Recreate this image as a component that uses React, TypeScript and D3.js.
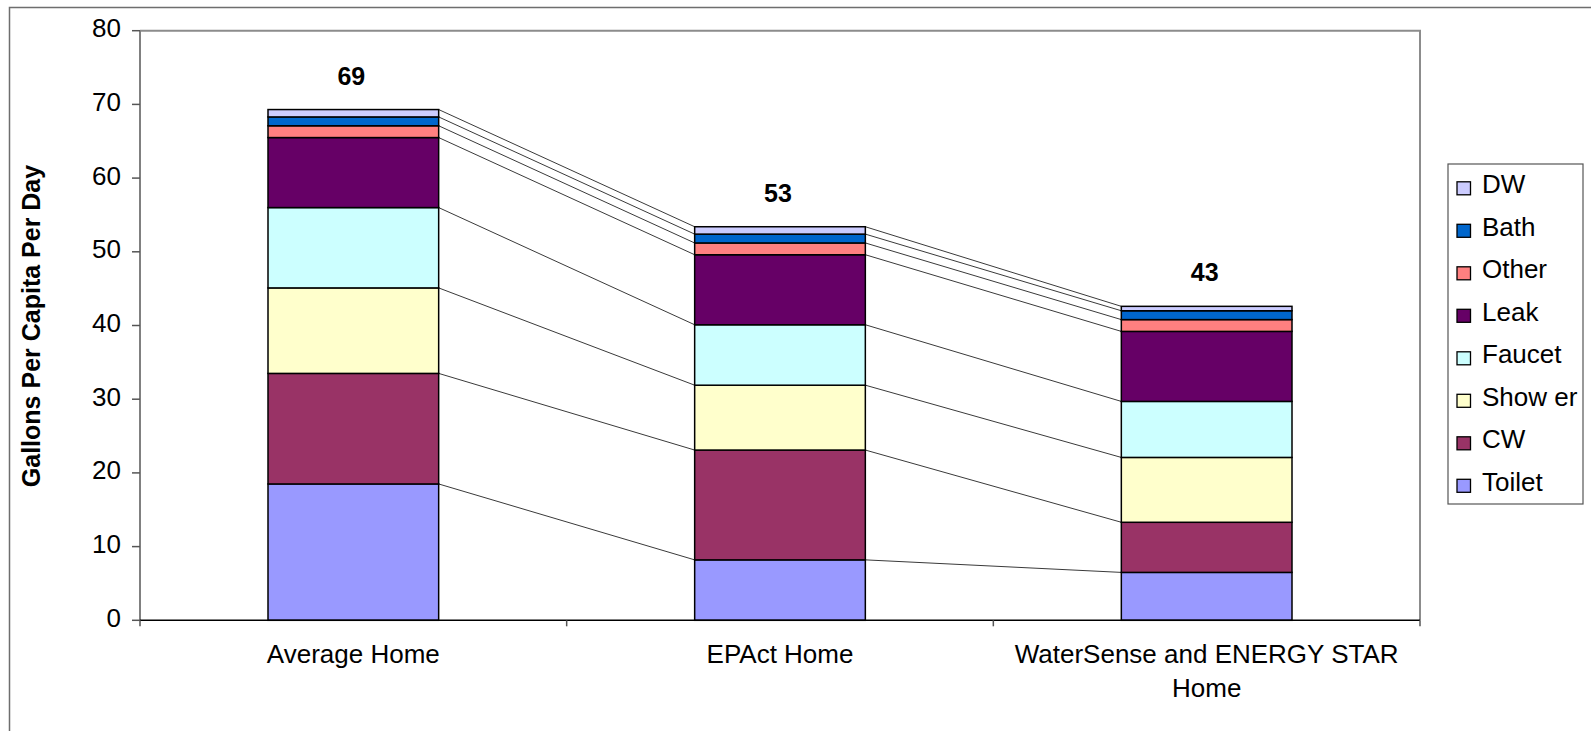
import React from "react";
import * as d3 from "d3";

// Household indoor water use by end use, gallons per capita per day
const homes = ["Average Home", "EPAct Home", "WaterSense and ENERGY STAR Home"];
const homeLabelLines = [["Average Home"], ["EPAct Home"], ["WaterSense and ENERGY STAR", "Home"]];

// stacking order, bottom to top
const endUses = ["Toilet", "CW", "Shower", "Faucet", "Leak", "Other", "Bath", "DW"];
const toilet = [18.5, 8.2, 6.5];
const cw = [15.0, 14.9, 6.8];
const shower = [11.6, 8.8, 8.8];
const faucet = [10.9, 8.2, 7.6];
const leak = [9.5, 9.5, 9.5];
const other = [1.6, 1.6, 1.6];
const bath = [1.2, 1.2, 1.2];
const dw = [1.0, 1.0, 0.6];

const yTicks = [0, 10, 20, 30, 40, 50, 60, 70, 80];

const colors: Record<string, string> = {
  Toilet: "#9999FF",
  CW: "#993366",
  Shower: "#FFFFCC",
  Faucet: "#CCFFFF",
  Leak: "#660066",
  Other: "#FF8080",
  Bath: "#0066CC",
  DW: "#CCCCFF",
};

const seriesValues = [toilet, cw, shower, faucet, leak, other, bath, dw];

export default function App() {
  const W = 1591;
  const H = 731;
  const left = 140;
  const right = 1420;
  const top = 30.7;
  const bottom = 620.3;

  const x = d3.scaleBand<string>().domain(homes).range([left, right]).paddingInner(0.6).paddingOuter(0.3);
  const y = d3.scaleLinear().domain([0, 80]).range([bottom, top]);
  const step = x.step();
  const bw = x.bandwidth();

  const rows = homes.map((h, j) => {
    const r: Record<string, number | string> = { home: h };
    endUses.forEach((u, i) => (r[u] = seriesValues[i][j]));
    return r;
  });
  const stacked = d3.stack<Record<string, number | string>>().keys(endUses)(rows as any);
  const totals = homes.map((_, j) => d3.sum(seriesValues, (s) => s[j]));

  const font = "'Liberation Sans', Arial, sans-serif";
  const legendItems = [...endUses].reverse();
  const legendLabel = (u: string) => (u === "Shower" ? "Show er" : u === "CW" ? "CW" : u);

  return (
    <svg width={W} height={H} style={{ position: "absolute", left: 0, top: 0, background: "#fff" }} fontFamily={font}>
      {/* chart frame */}
      <path d={`M9.5,${H + 5} V7.5 H${W + 5}`} fill="none" stroke="#6e6e6e" strokeWidth={1.5} />

      {/* plot border */}
      <path d={`M${left},${top} H${right} V${bottom}`} fill="none" stroke="#8c8c8c" strokeWidth={2} />
      <line x1={left} x2={left} y1={top} y2={bottom} stroke="#808080" strokeWidth={2} />

      {/* y ticks and labels */}
      {yTicks.map((t) => (
        <g key={t}>
          <line x1={left - 8} x2={left} y1={y(t)} y2={y(t)} stroke="#555" strokeWidth={1.5} />
          <text x={121} y={y(t) + 6.5} textAnchor="end" fontSize={26} fill="#000">
            {t}
          </text>
        </g>
      ))}

      {/* connector lines between stacks */}
      {stacked.map((s, i) =>
        homes.slice(0, -1).map((h, j) => (
          <line
            key={`c-${i}-${j}`}
            x1={(x(h) as number) + bw}
            y1={y(s[j][1])}
            x2={x(homes[j + 1]) as number}
            y2={y(s[j + 1][1])}
            stroke="#3a3a3a"
            strokeWidth={1}
          />
        ))
      )}

      {/* stacked bars */}
      {stacked.map((s) =>
        s.map((d, j) => (
          <rect
            key={`${s.key}-${j}`}
            x={x(homes[j])}
            y={y(d[1])}
            width={bw}
            height={y(d[0]) - y(d[1])}
            fill={colors[s.key as string]}
            stroke="#000"
            strokeWidth={1.5}
          />
        ))
      )}

      {/* x axis */}
      <line x1={left} x2={right} y1={bottom} y2={bottom} stroke="#000" strokeWidth={1.5} />
      {d3.range(homes.length + 1).map((k) => (
        <line key={k} x1={left + k * step} x2={left + k * step} y1={bottom} y2={bottom + 6} stroke="#555" strokeWidth={1.5} />
      ))}
      {homes.map((h, j) =>
        homeLabelLines[j].map((line, li) => (
          <text key={`${h}-${li}`} x={(x(h) as number) + bw / 2} y={663 + li * 34} textAnchor="middle" fontSize={26} fill="#000">
            {line}
          </text>
        ))
      )}

      {/* totals */}
      {homes.map((h, j) => (
        <text key={`t-${h}`} x={(x(h) as number) + bw / 2 - 2} y={y(totals[j]) - 25} textAnchor="middle" fontSize={25} fontWeight="bold" fill="#000">
          {Math.round(totals[j])}
        </text>
      ))}

      {/* y axis title */}
      <text transform={`translate(40,326) rotate(-90)`} textAnchor="middle" fontSize={25} fontWeight="bold" fill="#000">
        Gallons Per Capita Per Day
      </text>

      {/* legend */}
      <rect x={1448} y={164} width={135} height={340} fill="#fff" stroke="#555" strokeWidth={1.2} />
      {legendItems.map((u, k) => (
        <g key={u} transform={`translate(0,${193.3 + k * 42.5})`}>
          <rect x={1457} y={-11.5} width={13.5} height={13} fill={colors[u]} stroke="#000" strokeWidth={1.3} />
          <text x={1482} y={0} fontSize={26} fill="#000">
            {legendLabel(u)}
          </text>
        </g>
      ))}
    </svg>
  );
}
